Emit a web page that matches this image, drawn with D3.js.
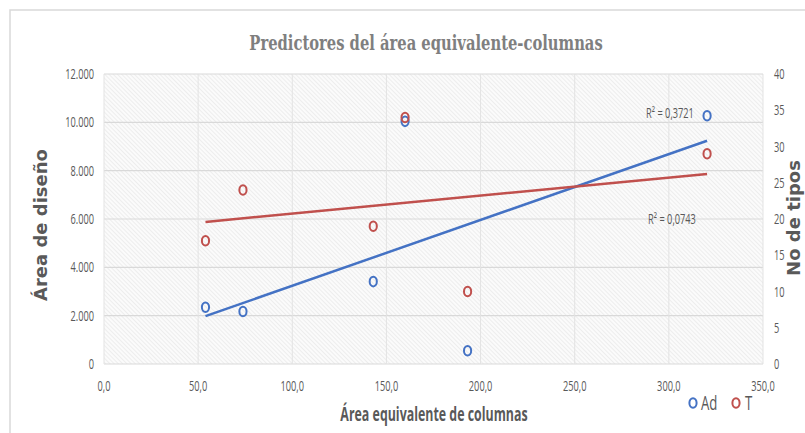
<!DOCTYPE html>
<html>
<head>
<meta charset="utf-8">
<script src="https://cdn.jsdelivr.net/npm/d3@7"></script>
<style>
  html, body { margin: 0; padding: 0; background: #fff; }
  svg text { font-family: "Open Sans", "DejaVu Sans Condensed", sans-serif; }
</style>
</head>
<body>
<svg id="chart" width="805" height="433"></svg>
<script>
// Data
const xVals = [53.9, 73.8, 143.0, 159.9, 193.1, 320.3];
const adVals = [2350, 2170, 3410, 10040, 550, 10270];   // left axis
const tVals = [17, 24, 19, 34, 10, 29];                // right axis
const xTicks = [0, 50, 100, 150, 200, 250, 300, 350];
const leftTicks = [0, 2000, 4000, 6000, 8000, 10000, 12000];
const rightTicks = [0, 5, 10, 15, 20, 25, 30, 35, 40];
const r2Labels = ["R² = 0,3721", "R² = 0,0743"];

const BLUE = "#4472c4", RED = "#c0504d";
const GREY = "#595959";

const svg = d3.select("#chart");
const m = { l: 104, r: 763, t: 74, b: 364 };

const x = d3.scaleLinear().domain([0, 350]).range([m.l, m.r]);
const yL = d3.scaleLinear().domain([0, 12000]).range([m.b, m.t]);
const yR = d3.scaleLinear().domain([0, 40]).range([m.b, m.t]);

const loc = d3.formatLocale({ decimal: ",", thousands: ".", grouping: [3], currency: ["", ""] });
const fx = loc.format(".1f");
const fy = loc.format(",d");

// chart frame
svg.append("path")
  .attr("d", "M10,440 L10,10 L810,10")
  .attr("fill", "none").attr("stroke", "#d9d9d9").attr("stroke-width", 1.5);

// hatch pattern
const defs = svg.append("defs");
const pat = defs.append("pattern")
  .attr("id", "hatch").attr("patternUnits", "userSpaceOnUse")
  .attr("width", 3).attr("height", 3)
  .attr("patternTransform", "rotate(-45)");
pat.append("rect").attr("width", 3).attr("height", 3).attr("fill", "#fbfbfb");
pat.append("line").attr("x1", 0).attr("y1", 0).attr("x2", 0).attr("y2", 3)
  .attr("stroke", "#e0e0e0").attr("stroke-width", 1);

svg.append("rect")
  .attr("x", m.l).attr("y", m.t).attr("width", m.r - m.l).attr("height", m.b - m.t)
  .attr("fill", "url(#hatch)");

// grid
const grid = svg.append("g");
grid.selectAll("line.h").data(leftTicks).join("line")
  .attr("x1", m.l).attr("x2", m.r)
  .attr("y1", d => yL(d)).attr("y2", d => yL(d))
  .attr("stroke", "#d9d9d9").attr("stroke-width", 1.2);
grid.selectAll("line.v").data(xTicks).join("line")
  .attr("y1", m.t).attr("y2", m.b)
  .attr("x1", d => x(d)).attr("x2", d => x(d))
  .attr("stroke", "#e3e3e3").attr("stroke-width", 1);

// helper for squished text
function label(g, px, py, txt, opts) {
  const o = Object.assign({ size: 13, sx: 0.72, anchor: "middle", fill: GREY, weight: "normal", rot: 0, family: null }, opts || {});
  const t = g.append("text")
    .attr("transform", `translate(${px},${py}) rotate(${o.rot}) scale(${o.sx},1)`)
    .attr("text-anchor", o.anchor)
    .attr("font-size", o.size)
    .attr("font-weight", o.weight)
    .attr("fill", o.fill)
    .text(txt);
  if (o.family) t.style("font-family", o.family);
  return t;
}

// tick labels
const ticks = svg.append("g");
xTicks.forEach(d => label(ticks, x(d), 391, fx(d), { size: 14, sx: 0.66 }));
leftTicks.forEach(d => label(ticks, 94, yL(d) + 5, fy(d), { size: 14, sx: 0.66, anchor: "end" }));
rightTicks.forEach(d => label(ticks, 774, yR(d) + 5, String(d), { size: 14, sx: 0.66, anchor: "start" }));

// trendlines (least squares)
function fit(xs, ys) {
  const mx = d3.mean(xs), my = d3.mean(ys);
  const sxy = d3.sum(xs, (v, i) => (v - mx) * (ys[i] - my));
  const sxx = d3.sum(xs, v => (v - mx) ** 2);
  const b = sxy / sxx;
  return v => my + b * (v - mx);
}
const xExt = d3.extent(xVals);
const fAd = fit(xVals, adVals);
const fT = fit(xVals, tVals);
const line = d3.line();
svg.append("path")
  .attr("d", line(xExt.map(v => [x(v), yL(fAd(v))])))
  .attr("stroke", BLUE).attr("stroke-width", 2.5).attr("fill", "none");
svg.append("path")
  .attr("d", line(xExt.map(v => [x(v), yR(fT(v))])))
  .attr("stroke", RED).attr("stroke-width", 2.5).attr("fill", "none");

// markers
svg.append("g").selectAll("ellipse").data(xVals).join("ellipse")
  .attr("cx", d => x(d)).attr("cy", (d, i) => yL(adVals[i]))
  .attr("rx", 3.6).attr("ry", 4.8)
  .attr("fill", "none").attr("stroke", BLUE).attr("stroke-width", 2);
svg.append("g").selectAll("ellipse").data(xVals).join("ellipse")
  .attr("cx", d => x(d)).attr("cy", (d, i) => yR(tVals[i]))
  .attr("rx", 3.6).attr("ry", 4.8)
  .attr("fill", "none").attr("stroke", RED).attr("stroke-width", 2);

// R² labels
label(svg, 670, 118, r2Labels[0], { size: 14, sx: 0.66 });
label(svg, 672, 224, r2Labels[1], { size: 14, sx: 0.66 });

// title
label(svg, 426, 50, "Predictores del área equivalente-columnas",
  { size: 21, sx: 0.78, fill: "#7f7f7f", weight: "bold", family: "'DejaVu Serif Condensed', 'DejaVu Serif', serif" });

// axis titles
label(svg, 434, 421, "Área  equivalente de columnas", { size: 20, sx: 0.62, weight: "bold" });
label(svg, 47, 225, "Área de diseño", { size: 18, sx: 1, weight: "bold", rot: -90, family: "'DejaVu Sans', sans-serif" });
label(svg, 800, 218, "No  de tipos", { size: 18, sx: 1, weight: "bold", rot: -90, family: "'DejaVu Sans', sans-serif" });

// legend
const lg = svg.append("g");
lg.append("ellipse").attr("cx", 693).attr("cy", 403).attr("rx", 3.6).attr("ry", 4.8)
  .attr("fill", "none").attr("stroke", BLUE).attr("stroke-width", 2);
label(lg, 701, 410, "Ad", { size: 20, sx: 0.66, anchor: "start" });
lg.append("ellipse").attr("cx", 736).attr("cy", 403).attr("rx", 3.6).attr("ry", 4.8)
  .attr("fill", "none").attr("stroke", RED).attr("stroke-width", 2);
label(lg, 745, 410, "T", { size: 20, sx: 0.66, anchor: "start" });
</script>
</body>
</html>
